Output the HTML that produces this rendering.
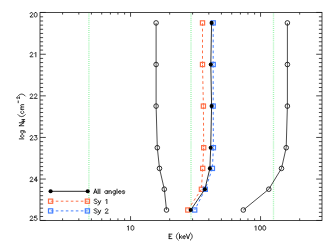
<!DOCTYPE html>
<html><head><meta charset="utf-8"><title>plot</title>
<style>html,body{margin:0;padding:0;background:#fff;}body{font-family:"Liberation Sans",sans-serif;overflow:hidden;}svg{display:block;}</style></head><body>
<svg width="334" height="246" viewBox="0 0 334 246">
<rect width="334" height="246" fill="#fff"/>
<line x1="88.9" y1="13.5" x2="88.9" y2="220" stroke="#a2f4b2" stroke-width="1.4" stroke-dasharray="1 1.0625"/>
<line x1="191.0" y1="13.5" x2="191.0" y2="220" stroke="#a2f4b2" stroke-width="1.4" stroke-dasharray="1 1.0625"/>
<line x1="273.5" y1="13.5" x2="273.5" y2="220" stroke="#a2f4b2" stroke-width="1.4" stroke-dasharray="1 1.0625"/>
<rect x="40.0" y="12.45" width="282.0" height="208.0" fill="none" stroke="#1a1a1a" stroke-width="0.8"/>
<path d="M40.0 12.45h5.8M322.0 12.45h-5.8M40.0 16.81h3.1M322.0 16.81h-3.1M40.0 20.97h3.1M322.0 20.97h-3.1M40.0 25.13h3.1M322.0 25.13h-3.1M40.0 29.29h3.1M322.0 29.29h-3.1M40.0 33.45h3.1M322.0 33.45h-3.1M40.0 37.61h3.1M322.0 37.61h-3.1M40.0 41.77h3.1M322.0 41.77h-3.1M40.0 45.93h3.1M322.0 45.93h-3.1M40.0 50.09h3.1M322.0 50.09h-3.1M40.0 54.25h5.8M322.0 54.25h-5.8M40.0 58.41h3.1M322.0 58.41h-3.1M40.0 62.57h3.1M322.0 62.57h-3.1M40.0 66.73h3.1M322.0 66.73h-3.1M40.0 70.89h3.1M322.0 70.89h-3.1M40.0 75.05h3.1M322.0 75.05h-3.1M40.0 79.21h3.1M322.0 79.21h-3.1M40.0 83.37h3.1M322.0 83.37h-3.1M40.0 87.53h3.1M322.0 87.53h-3.1M40.0 91.69h3.1M322.0 91.69h-3.1M40.0 95.85h5.8M322.0 95.85h-5.8M40.0 100.01h3.1M322.0 100.01h-3.1M40.0 104.17h3.1M322.0 104.17h-3.1M40.0 108.33h3.1M322.0 108.33h-3.1M40.0 112.49h3.1M322.0 112.49h-3.1M40.0 116.65h3.1M322.0 116.65h-3.1M40.0 120.81h3.1M322.0 120.81h-3.1M40.0 124.97h3.1M322.0 124.97h-3.1M40.0 129.13h3.1M322.0 129.13h-3.1M40.0 133.29h3.1M322.0 133.29h-3.1M40.0 137.45h5.8M322.0 137.45h-5.8M40.0 141.61h3.1M322.0 141.61h-3.1M40.0 145.77h3.1M322.0 145.77h-3.1M40.0 149.93h3.1M322.0 149.93h-3.1M40.0 154.09h3.1M322.0 154.09h-3.1M40.0 158.25h3.1M322.0 158.25h-3.1M40.0 162.41h3.1M322.0 162.41h-3.1M40.0 166.57h3.1M322.0 166.57h-3.1M40.0 170.73h3.1M322.0 170.73h-3.1M40.0 174.89h3.1M322.0 174.89h-3.1M40.0 179.05h5.8M322.0 179.05h-5.8M40.0 183.21h3.1M322.0 183.21h-3.1M40.0 187.37h3.1M322.0 187.37h-3.1M40.0 191.53h3.1M322.0 191.53h-3.1M40.0 195.69h3.1M322.0 195.69h-3.1M40.0 199.85h3.1M322.0 199.85h-3.1M40.0 204.01h3.1M322.0 204.01h-3.1M40.0 208.17h3.1M322.0 208.17h-3.1M40.0 212.33h3.1M322.0 212.33h-3.1M40.0 216.49h3.1M322.0 216.49h-3.1M40.0 220.45h5.8M322.0 220.45h-5.8M62.58 220.45v-2.1M62.58 12.45v2.1M78.82 220.45v-2.1M78.82 12.45v2.1M91.42 220.45v-2.1M91.42 12.45v2.1M101.71 220.45v-2.1M101.71 12.45v2.1M110.41 220.45v-2.1M110.41 12.45v2.1M117.95 220.45v-2.1M117.95 12.45v2.1M124.60 220.45v-2.1M124.60 12.45v2.1M130.55 220.45v-4.3M130.55 12.45v4.3M169.68 220.45v-2.1M169.68 12.45v2.1M192.58 220.45v-2.1M192.58 12.45v2.1M208.82 220.45v-2.1M208.82 12.45v2.1M221.42 220.45v-2.1M221.42 12.45v2.1M231.71 220.45v-2.1M231.71 12.45v2.1M240.41 220.45v-2.1M240.41 12.45v2.1M247.95 220.45v-2.1M247.95 12.45v2.1M254.60 220.45v-2.1M254.60 12.45v2.1M260.55 220.45v-4.3M260.55 12.45v4.3M299.68 220.45v-2.1M299.68 12.45v2.1" fill="none" stroke="#1a1a1a" stroke-width="0.8"/>
<path d="M30.15 13.61L30.15 13.40L30.36 12.97L30.57 12.76L31.00 12.55L31.84 12.55L32.27 12.76L32.48 12.97L32.69 13.40L32.69 13.82L32.48 14.24L32.06 14.88L29.94 17.00L32.90 17.00M35.45 12.55L34.81 12.76L34.39 13.40L34.18 14.46L34.18 15.09L34.39 16.15L34.81 16.79L35.45 17.00L35.87 17.00L36.51 16.79L36.93 16.15L37.14 15.09L37.14 14.46L36.93 13.40L36.51 12.76L35.87 12.55L35.45 12.55M30.15 53.41L30.15 53.20L30.36 52.77L30.57 52.56L31.00 52.35L31.84 52.35L32.27 52.56L32.48 52.77L32.69 53.20L32.69 53.62L32.48 54.04L32.06 54.68L29.94 56.80L32.90 56.80M34.81 53.20L35.24 52.98L35.87 52.35L35.87 56.80M30.15 95.01L30.15 94.80L30.36 94.37L30.57 94.16L31.00 93.95L31.84 93.95L32.27 94.16L32.48 94.37L32.69 94.80L32.69 95.22L32.48 95.64L32.06 96.28L29.94 98.40L32.90 98.40M34.39 95.01L34.39 94.80L34.60 94.37L34.81 94.16L35.24 93.95L36.08 93.95L36.51 94.16L36.72 94.37L36.93 94.80L36.93 95.22L36.72 95.64L36.30 96.28L34.18 98.40L37.14 98.40M30.15 136.61L30.15 136.40L30.36 135.97L30.57 135.76L31.00 135.55L31.84 135.55L32.27 135.76L32.48 135.97L32.69 136.40L32.69 136.82L32.48 137.24L32.06 137.88L29.94 140.00L32.90 140.00M34.60 135.55L36.93 135.55L35.66 137.24L36.30 137.24L36.72 137.46L36.93 137.67L37.14 138.30L37.14 138.73L36.93 139.36L36.51 139.79L35.87 140.00L35.24 140.00L34.60 139.79L34.39 139.58L34.18 139.15M30.15 178.21L30.15 178.00L30.36 177.57L30.57 177.36L31.00 177.15L31.84 177.15L32.27 177.36L32.48 177.57L32.69 178.00L32.69 178.42L32.48 178.84L32.06 179.48L29.94 181.60L32.90 181.60M36.30 177.15L34.18 180.12L37.36 180.12M36.30 177.15L36.30 181.60M30.15 217.11L30.15 216.90L30.36 216.47L30.57 216.26L31.00 216.05L31.84 216.05L32.27 216.26L32.48 216.47L32.69 216.90L32.69 217.32L32.48 217.74L32.06 218.38L29.94 220.50L32.90 220.50M36.72 216.05L34.60 216.05L34.39 217.96L34.60 217.74L35.24 217.53L35.87 217.53L36.51 217.74L36.93 218.17L37.14 218.80L37.14 219.23L36.93 219.86L36.51 220.29L35.87 220.50L35.24 220.50L34.60 220.29L34.39 220.08L34.18 219.65M127.33 226.60L127.76 226.38L128.39 225.75L128.39 230.20M132.21 225.75L131.57 225.96L131.15 226.60L130.94 227.66L130.94 228.29L131.15 229.35L131.57 229.99L132.21 230.20L132.63 230.20L133.27 229.99L133.69 229.35L133.90 228.29L133.90 227.66L133.69 226.60L133.27 225.96L132.63 225.75L132.21 225.75M254.91 226.60L255.34 226.38L255.97 225.75L255.97 230.20M259.79 225.75L259.15 225.96L258.73 226.60L258.52 227.66L258.52 228.29L258.73 229.35L259.15 229.99L259.79 230.20L260.21 230.20L260.85 229.99L261.27 229.35L261.48 228.29L261.48 227.66L261.27 226.60L260.85 225.96L260.21 225.75L259.79 225.75M264.03 225.75L263.39 225.96L262.97 226.60L262.76 227.66L262.76 228.29L262.97 229.35L263.39 229.99L264.03 230.20L264.45 230.20L265.09 229.99L265.51 229.35L265.72 228.29L265.72 227.66L265.51 226.60L265.09 225.96L264.45 225.75L264.03 225.75M169.15 234.15L169.15 238.60M169.15 234.15L171.91 234.15M169.15 236.27L170.85 236.27M169.15 238.60L171.91 238.60M178.27 232.88L177.63 233.51L177.00 234.36L176.57 235.42L176.36 236.48L176.57 237.54L177.00 238.60L177.63 239.45L178.27 240.08M179.54 234.15L179.54 238.60M181.66 235.63L179.54 237.75M180.39 236.90L181.87 238.60M182.93 236.90L185.48 236.90L185.48 236.48L185.26 236.06L185.05 235.84L184.63 235.63L183.99 235.63L183.57 235.84L183.14 236.27L182.93 236.90L182.93 237.33L183.14 237.96L183.57 238.39L183.99 238.60L184.63 238.60L185.05 238.39L185.48 237.96M186.32 234.15L188.02 238.60M189.72 234.15L188.02 238.60M190.35 232.88L190.99 233.51L191.62 234.36L192.05 235.42L192.26 236.48L192.05 237.54L191.62 238.60L190.99 239.45L190.35 240.08M19.30 138.89L23.75 138.89M20.78 136.35L20.99 136.77L21.42 137.19L22.05 137.41L22.48 137.41L23.11 137.19L23.54 136.77L23.75 136.35L23.75 135.71L23.54 135.29L23.11 134.86L22.48 134.65L22.05 134.65L21.42 134.86L20.99 135.29L20.78 135.71L20.78 136.35M20.78 130.83L24.17 130.83L24.81 131.05L25.02 131.26L25.23 131.68L25.23 132.32L25.02 132.74M21.42 130.83L20.99 131.26L20.78 131.68L20.78 132.32L20.99 132.74L21.42 133.17L22.05 133.38L22.48 133.38L23.11 133.17L23.54 132.74L23.75 132.32L23.75 131.68L23.54 131.26L23.11 130.83M19.30 125.75L23.75 125.75M19.30 125.75L23.75 122.78M19.30 122.78L23.75 122.78M21.96 121.40L24.73 121.40M21.96 119.56L24.73 119.56M23.28 121.40L23.28 119.56M18.03 114.71L18.66 115.34L19.51 115.98L20.57 116.40L21.63 116.62L22.69 116.40L23.75 115.98L24.60 115.34L25.23 114.71M21.42 111.10L20.99 111.53L20.78 111.95L20.78 112.59L20.99 113.01L21.42 113.44L22.05 113.65L22.48 113.65L23.11 113.44L23.54 113.01L23.75 112.59L23.75 111.95L23.54 111.53L23.11 111.10M20.78 109.32L23.75 109.32M21.63 109.32L20.99 108.69L20.78 108.26L20.78 107.63L20.99 107.20L21.63 106.99L23.75 106.99M21.63 106.99L20.99 106.36L20.78 105.93L20.78 105.30L20.99 104.87L21.63 104.66L23.75 104.66M18.22 102.77L18.22 100.93M17.30 98.60L17.17 98.60L16.91 98.47L16.78 98.33L16.64 98.07L16.64 97.55L16.78 97.28L16.91 97.15L17.17 97.02L17.43 97.02L17.70 97.15L18.09 97.41L19.40 98.73L19.40 96.89M18.03 96.01L18.66 95.37L19.51 94.73L20.57 94.31L21.63 94.10L22.69 94.31L23.75 94.73L24.60 95.37L25.23 96.01M95.41 189.15L93.71 193.60M95.41 189.15L97.10 193.60M94.35 192.12L96.47 192.12M98.16 189.15L98.16 193.60M99.86 189.15L99.86 193.60M107.28 190.63L107.28 193.60M107.28 191.27L106.86 190.84L106.43 190.63L105.80 190.63L105.37 190.84L104.95 191.27L104.74 191.90L104.74 192.33L104.95 192.96L105.37 193.39L105.80 193.60L106.43 193.60L106.86 193.39L107.28 192.96M108.98 190.63L108.98 193.60M108.98 191.48L109.61 190.84L110.04 190.63L110.67 190.63L111.10 190.84L111.31 191.48L111.31 193.60M115.34 190.63L115.34 194.02L115.12 194.66L114.91 194.87L114.49 195.08L113.85 195.08L113.43 194.87M115.34 191.27L114.91 190.84L114.49 190.63L113.85 190.63L113.43 190.84L113.00 191.27L112.79 191.90L112.79 192.33L113.00 192.96L113.43 193.39L113.85 193.60L114.49 193.60L114.91 193.39L115.34 192.96M117.03 189.15L117.03 193.60M118.52 191.90L121.06 191.90L121.06 191.48L120.85 191.06L120.64 190.84L120.21 190.63L119.58 190.63L119.15 190.84L118.73 191.27L118.52 191.90L118.52 192.33L118.73 192.96L119.15 193.39L119.58 193.60L120.21 193.60L120.64 193.39L121.06 192.96M124.66 191.27L124.45 190.84L123.82 190.63L123.18 190.63L122.54 190.84L122.33 191.27L122.54 191.69L122.97 191.90L124.03 192.12L124.45 192.33L124.66 192.75L124.66 192.96L124.45 193.39L123.82 193.60L123.18 193.60L122.54 193.39L122.33 192.96M97.10 199.78L96.68 199.36L96.04 199.15L95.20 199.15L94.56 199.36L94.14 199.78L94.14 200.21L94.35 200.63L94.56 200.84L94.98 201.06L96.26 201.48L96.68 201.69L96.89 201.90L97.10 202.33L97.10 202.96L96.68 203.39L96.04 203.60L95.20 203.60L94.56 203.39L94.14 202.96M98.16 200.63L99.44 203.60M100.71 200.63L99.44 203.60L99.01 204.45L98.59 204.87L98.16 205.08L97.95 205.08M105.80 200.00L106.22 199.78L106.86 199.15L106.86 203.60M97.10 209.38L96.68 208.96L96.04 208.75L95.20 208.75L94.56 208.96L94.14 209.38L94.14 209.81L94.35 210.23L94.56 210.44L94.98 210.66L96.26 211.08L96.68 211.29L96.89 211.50L97.10 211.93L97.10 212.56L96.68 212.99L96.04 213.20L95.20 213.20L94.56 212.99L94.14 212.56M98.16 210.23L99.44 213.20M100.71 210.23L99.44 213.20L99.01 214.05L98.59 214.47L98.16 214.68L97.95 214.68M105.37 209.81L105.37 209.60L105.58 209.17L105.80 208.96L106.22 208.75L107.07 208.75L107.49 208.96L107.70 209.17L107.92 209.60L107.92 210.02L107.70 210.44L107.28 211.08L105.16 213.20L108.13 213.20" fill="none" stroke="#111" stroke-width="0.85" stroke-linecap="round" stroke-linejoin="round"/>
<polyline points="156.1,22.9 156.1,64.5 156.1,106.1 157.3,147.7 159.5,168.4 164.3,189.2 166.5,210.0" fill="none" stroke="#111" stroke-width="0.75"/>
<circle cx="156.1" cy="22.9" r="2.3" fill="none" stroke="#111" stroke-width="0.85"/>
<circle cx="156.1" cy="64.5" r="2.3" fill="none" stroke="#111" stroke-width="0.85"/>
<circle cx="156.1" cy="106.1" r="2.3" fill="none" stroke="#111" stroke-width="0.85"/>
<circle cx="157.3" cy="147.7" r="2.3" fill="none" stroke="#111" stroke-width="0.85"/>
<circle cx="159.5" cy="168.4" r="2.3" fill="none" stroke="#111" stroke-width="0.85"/>
<circle cx="164.3" cy="189.2" r="2.3" fill="none" stroke="#111" stroke-width="0.85"/>
<circle cx="166.5" cy="210.0" r="2.3" fill="none" stroke="#111" stroke-width="0.85"/>
<polyline points="287.4,22.9 287.4,64.5 287.4,106.1 286.2,147.7 281.5,168.4 268.8,189.2 243.3,210.0" fill="none" stroke="#111" stroke-width="0.75"/>
<circle cx="287.4" cy="22.9" r="2.3" fill="none" stroke="#111" stroke-width="0.85"/>
<circle cx="287.4" cy="64.5" r="2.3" fill="none" stroke="#111" stroke-width="0.85"/>
<circle cx="287.4" cy="106.1" r="2.3" fill="none" stroke="#111" stroke-width="0.85"/>
<circle cx="286.2" cy="147.7" r="2.3" fill="none" stroke="#111" stroke-width="0.85"/>
<circle cx="281.5" cy="168.4" r="2.3" fill="none" stroke="#111" stroke-width="0.85"/>
<circle cx="268.8" cy="189.2" r="2.3" fill="none" stroke="#111" stroke-width="0.85"/>
<circle cx="243.3" cy="210.0" r="2.3" fill="none" stroke="#111" stroke-width="0.85"/>
<line x1="202.5" y1="22.9" x2="202.5" y2="64.5" stroke="#ff7048" stroke-width="1.0" stroke-dasharray="2.78 2.67" stroke-dashoffset="5.10"/>
<line x1="202.5" y1="64.5" x2="203.4" y2="106.1" stroke="#ff7048" stroke-width="1.0" stroke-dasharray="2.78 2.67" stroke-dashoffset="5.10"/>
<line x1="203.4" y1="106.1" x2="203.7" y2="147.7" stroke="#ff7048" stroke-width="1.0" stroke-dasharray="2.78 2.67" stroke-dashoffset="5.10"/>
<line x1="203.7" y1="147.7" x2="202.7" y2="168.4" stroke="#ff7048" stroke-width="1.0" stroke-dasharray="2.78 2.67" stroke-dashoffset="5.10"/>
<line x1="202.7" y1="168.4" x2="201.4" y2="189.2" stroke="#ff7048" stroke-width="1.0" stroke-dasharray="2.78 2.67" stroke-dashoffset="5.10"/>
<line x1="201.4" y1="189.2" x2="187.8" y2="210.0" stroke="#ff7048" stroke-width="1.0" stroke-dasharray="2.70 2.60" stroke-dashoffset="4.95"/>
<rect x="200.4" y="20.8" width="4.2" height="4.2" fill="none" stroke="#ff7048" stroke-width="1.2"/>
<rect x="200.4" y="62.4" width="4.2" height="4.2" fill="none" stroke="#ff7048" stroke-width="1.2"/>
<rect x="201.3" y="104.0" width="4.2" height="4.2" fill="none" stroke="#ff7048" stroke-width="1.2"/>
<rect x="201.6" y="145.6" width="4.2" height="4.2" fill="none" stroke="#ff7048" stroke-width="1.2"/>
<rect x="200.6" y="166.3" width="4.2" height="4.2" fill="none" stroke="#ff7048" stroke-width="1.2"/>
<rect x="199.3" y="187.2" width="4.2" height="4.2" fill="none" stroke="#ff7048" stroke-width="1.2"/>
<rect x="185.7" y="207.9" width="4.2" height="4.2" fill="none" stroke="#ff7048" stroke-width="1.2"/>
<line x1="213.2" y1="22.9" x2="213.2" y2="64.5" stroke="#4580ff" stroke-width="1.0" stroke-dasharray="2.78 2.67" stroke-dashoffset="5.10"/>
<line x1="213.2" y1="64.5" x2="213.2" y2="106.1" stroke="#4580ff" stroke-width="1.0" stroke-dasharray="2.78 2.67" stroke-dashoffset="5.10"/>
<line x1="213.2" y1="106.1" x2="213.4" y2="147.7" stroke="#4580ff" stroke-width="1.0" stroke-dasharray="2.78 2.67" stroke-dashoffset="5.10"/>
<line x1="213.4" y1="147.7" x2="212.4" y2="168.4" stroke="#4580ff" stroke-width="1.0" stroke-dasharray="2.78 2.67" stroke-dashoffset="5.10"/>
<line x1="212.4" y1="168.4" x2="205.3" y2="189.2" stroke="#4580ff" stroke-width="1.0" stroke-dasharray="2.75 2.64" stroke-dashoffset="5.05"/>
<line x1="205.3" y1="189.2" x2="194.7" y2="210.0" stroke="#4580ff" stroke-width="1.0" stroke-dasharray="2.73 2.62" stroke-dashoffset="5.00"/>
<rect x="211.1" y="20.8" width="4.2" height="4.2" fill="none" stroke="#4580ff" stroke-width="1.2"/>
<rect x="211.1" y="62.4" width="4.2" height="4.2" fill="none" stroke="#4580ff" stroke-width="1.2"/>
<rect x="211.1" y="104.0" width="4.2" height="4.2" fill="none" stroke="#4580ff" stroke-width="1.2"/>
<rect x="211.3" y="145.6" width="4.2" height="4.2" fill="none" stroke="#4580ff" stroke-width="1.2"/>
<rect x="210.3" y="166.3" width="4.2" height="4.2" fill="none" stroke="#4580ff" stroke-width="1.2"/>
<rect x="203.2" y="187.2" width="4.2" height="4.2" fill="none" stroke="#4580ff" stroke-width="1.2"/>
<rect x="192.6" y="207.9" width="4.2" height="4.2" fill="none" stroke="#4580ff" stroke-width="1.2"/>
<polyline points="211.6,22.9 210.8,64.5 211.6,106.1 210.7,147.7 209.9,168.4 204.9,189.2 190.7,210.0" fill="none" stroke="#111" stroke-width="0.85"/>
<circle cx="211.6" cy="22.9" r="2.05" fill="#000"/>
<circle cx="210.8" cy="64.5" r="2.05" fill="#000"/>
<circle cx="211.6" cy="106.1" r="2.05" fill="#000"/>
<circle cx="210.7" cy="147.7" r="2.05" fill="#000"/>
<circle cx="209.9" cy="168.4" r="2.05" fill="#000"/>
<circle cx="204.9" cy="189.2" r="2.05" fill="#000"/>
<circle cx="190.7" cy="210.0" r="2.05" fill="#000"/>
<line x1="50.6" y1="191.3" x2="87.7" y2="191.3" stroke="#111" stroke-width="0.9"/>
<circle cx="50.6" cy="191.3" r="2.05" fill="#000"/>
<circle cx="87.7" cy="191.3" r="2.05" fill="#000"/>
<line x1="50.6" y1="201.2" x2="87.7" y2="201.2" stroke="#ff7048" stroke-width="1.0" stroke-dasharray="2.6 2.4" stroke-dashoffset="-0.2"/>
<rect x="48.5" y="199.1" width="4.2" height="4.2" fill="none" stroke="#ff7048" stroke-width="1.2"/>
<rect x="85.3" y="199.1" width="4.2" height="4.2" fill="none" stroke="#ff7048" stroke-width="1.2"/>
<line x1="50.6" y1="210.9" x2="87.7" y2="210.9" stroke="#4580ff" stroke-width="1.0" stroke-dasharray="2.6 2.4" stroke-dashoffset="-0.2"/>
<rect x="48.5" y="208.8" width="4.2" height="4.2" fill="none" stroke="#4580ff" stroke-width="1.2"/>
<rect x="85.3" y="208.8" width="4.2" height="4.2" fill="none" stroke="#4580ff" stroke-width="1.2"/>
</svg></body></html>
